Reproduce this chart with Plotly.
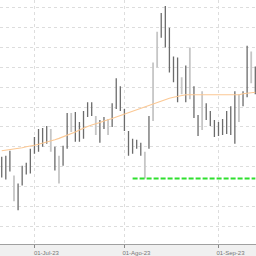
import pandas as pd
import plotly.graph_objects as go

# Trading days shown (weekdays)
DATES = [d.strftime("%Y-%m-%d") for d in pd.bdate_range("2023-06-20", "2023-09-14")]

OPEN = [13.8, 14.0, 14.5, 10.0, 11.2, 13.0, 13.4, 14.7, 16.0, 16.7,
        16.9, 17.1, 15.0, 15.0, 11.9, 15.1, 18.2, 17.0, 18.4, 17.5,
        18.6, 19.4, 19.5, 16.6, 17.6, 18.1, 16.7, 19.4, 21.7, 21.0,
        18.7, 16.5, 15.8, 15.7, 15.4, 12.4, 18.0, 18.2, 23.8, 28.3,
        28.5, 26.8, 24.0, 23.8, 20.8, 23.0, 20.4, 21.1, 18.2, 17.2,
        19.4, 18.6, 17.7, 17.5, 17.8, 18.6, 19.0, 20.4, 18.0, 20.6,
        24.6, 22.0, 23.0]
HIGH = [14.2, 14.3, 14.8, 12.3, 11.5, 13.3, 13.6, 15.0, 16.2, 17.0,
        17.1, 17.3, 17.0, 15.2, 14.3, 15.3, 18.6, 18.6, 18.7, 17.7,
        18.8, 19.7, 19.7, 18.3, 17.9, 18.2, 18.0, 19.6, 22.1, 21.3,
        19.0, 16.8, 16.0, 15.9, 15.6, 14.7, 18.3, 23.7, 26.8, 28.7,
        29.4, 27.2, 24.3, 24.2, 22.2, 23.4, 25.2, 21.3, 18.4, 20.8,
        19.6, 18.8, 17.9, 17.7, 18.0, 18.8, 19.3, 20.8, 20.5, 20.8,
        25.4, 24.8, 23.3]
LOW = [12.1, 11.9, 12.7, 9.7, 8.8, 11.3, 12.4, 12.5, 14.5, 14.7,
       15.2, 15.5, 14.7, 12.8, 11.5, 13.3, 15.0, 16.7, 15.7, 15.7,
       16.0, 18.2, 18.3, 16.4, 15.6, 17.0, 16.4, 17.2, 19.0, 18.8,
       16.8, 14.3, 14.5, 15.0, 14.3, 12.0, 15.0, 17.8, 23.2, 26.2,
       25.2, 22.7, 21.7, 19.7, 20.5, 19.7, 20.0, 18.1, 16.3, 16.9,
       17.9, 17.3, 16.2, 16.3, 16.4, 16.5, 16.4, 15.5, 17.7, 19.3,
       20.2, 21.6, 20.5]
CLOSE = [13.2, 12.9, 13.0, 12.0, 9.4, 12.2, 12.7, 13.4, 14.9, 15.8,
         16.5, 16.6, 16.7, 13.2, 12.4, 14.0, 15.4, 18.4, 16.7, 16.1,
         16.3, 18.7, 18.7, 17.9, 17.0, 17.3, 17.6, 17.8, 19.6, 19.4,
         17.2, 14.8, 15.0, 15.3, 14.7, 14.1, 15.4, 23.1, 26.4, 26.5,
         26.5, 23.0, 22.0, 20.2, 21.9, 20.0, 23.4, 18.6, 16.6, 20.4,
         18.2, 17.6, 16.5, 16.7, 16.8, 16.9, 16.8, 16.0, 20.1, 19.6,
         21.0, 23.0, 20.8]
MOVING_AVG = [14.8, 14.85, 14.9, 14.95, 15.05, 15.1, 15.2, 15.25, 15.35, 15.45,
              15.55, 15.7, 15.8, 15.9, 16.05, 16.2, 16.4, 16.55, 16.7, 16.9,
              17.1, 17.25, 17.4, 17.5, 17.65, 17.8, 17.9, 18.05, 18.2, 18.35,
              18.5, 18.65, 18.8, 18.95, 19.1, 19.25, 19.4, 19.55, 19.7, 19.85,
              20.0, 20.1, 20.2, 20.3, 20.4, 20.45, 20.45, 20.45, 20.45, 20.45,
              20.45, 20.45, 20.45, 20.45, 20.45, 20.45, 20.45, 20.45, 20.45, 20.55,
              20.6, 20.65, 20.7]
SUPPORT_LEVEL = 12.0
SUPPORT_START = "2023-08-03"

TICK_DATES = ["2023-06-30", "2023-08-01", "2023-09-01"]
TICK_LABELS = ["01-Jul-23", "01-Ago-23", "01-Sep-23"]

fig = go.Figure()
fig.add_trace(go.Scatter(x=DATES, y=MOVING_AVG, mode="lines",
                         line=dict(color="#fbc894", width=1.1), hoverinfo="skip"))
fig.add_trace(go.Ohlc(x=DATES, open=OPEN, high=HIGH, low=LOW, close=CLOSE,
                      tickwidth=0.12,
                      increasing=dict(line=dict(color="#c6c6c6", width=1.8)),
                      decreasing=dict(line=dict(color="#6c6c6c", width=1.3))))
sup_x = DATES[DATES.index(SUPPORT_START):]
fig.add_trace(go.Scatter(x=sup_x, y=[SUPPORT_LEVEL] * len(sup_x), mode="lines",
                         line=dict(color="#2ee02e", width=2, dash="5px,2px")))

fig.update_layout(
    width=256, height=256,
    margin=dict(l=0, r=0, t=0, b=10),
    paper_bgcolor="#f0f0f0", plot_bgcolor="#ffffff",
    showlegend=False,
    font=dict(family="Liberation Sans, Arial, sans-serif"),
)
fig.update_xaxes(type="category", range=[-0.42, 62.17],
                 rangeslider_visible=False,
                 tickvals=TICK_DATES, ticktext=TICK_LABELS,
                 ticks="outside", ticklen=3, tickcolor="#888888",
                 tickfont=dict(size=6, color="#777777"),
                 ticklabelshift=12, ticklabelstandoff=0,
                 showline=True, linecolor="#a0a0a0", linewidth=1,
                 showgrid=True, gridcolor="#dddddd", griddash="dot", gridwidth=1,
                 zeroline=False)
fig.update_yaxes(range=[5.4, 30.0], tick0=1.2, dtick=2,
                 showticklabels=False, ticks="",
                 showgrid=True, gridcolor="#dddddd", griddash="dot", gridwidth=1,
                 zeroline=False, showline=False)

fig.write_html("out.html")
